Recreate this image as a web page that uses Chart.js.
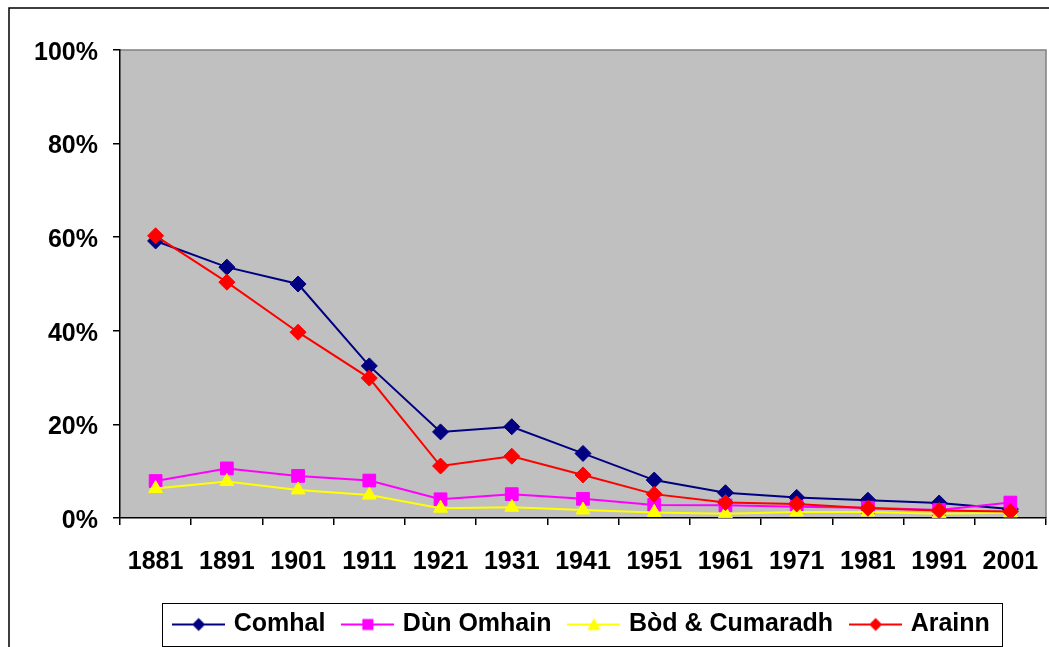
<!DOCTYPE html>
<html>
<head>
<meta charset="utf-8">
<script src="https://cdn.jsdelivr.net/npm/chart.js@4.4.1/dist/chart.umd.min.js"></script>
<style>
  html, body { margin: 0; padding: 0; background: #fff; overflow: hidden; }
  canvas { display: block; }
</style>
</head>
<body>
<canvas id="chart" width="1049" height="647"></canvas>
<script>
// years (x axis)
const years = ['1881', '1891', '1901', '1911', '1921', '1931', '1941', '1951', '1961', '1971', '1981', '1991', '2001'];
// share of Gaelic speakers, in %
const comhal = [59.2, 53.6, 50.0, 32.5, 18.4, 19.5, 13.8, 8.1, 5.4, 4.4, 3.8, 3.2, 1.9];
const dunOmhain = [7.9, 10.6, 9.0, 8.0, 4.0, 5.1, 4.1, 2.8, 2.7, 2.4, 2.2, 1.7, 3.3];
const bodCumaradh = [6.3, 7.8, 6.0, 4.9, 2.1, 2.3, 1.7, 1.2, 0.9, 1.3, 1.3, 0.9, 1.1];
const arainn = [60.3, 50.4, 39.7, 29.9, 11.1, 13.2, 9.2, 5.1, 3.3, 3.0, 2.1, 1.6, 1.4];
const yTicks = [0, 20, 40, 60, 80, 100];

const FONT = { family: '"Liberation Sans", Arial, sans-serif', size: 25, weight: 'bold' };

// small line + marker picture for the legend
function legendIcon(color, shape) {
  const c = document.createElement('canvas');
  c.width = 53; c.height = 16;
  const g = c.getContext('2d');
  g.strokeStyle = color; g.lineWidth = 2;
  g.beginPath(); g.moveTo(0, 8); g.lineTo(53, 8); g.stroke();
  g.fillStyle = color;
  g.beginPath();
  if (shape === 'diamond') {
    g.moveTo(26.5, 1.5); g.lineTo(33, 8); g.lineTo(26.5, 14.5); g.lineTo(20, 8);
  } else if (shape === 'square') {
    g.rect(21, 2.5, 11, 11);
  } else {
    g.moveTo(26.5, 1.5); g.lineTo(33, 13.5); g.lineTo(20, 13.5);
  }
  g.closePath(); g.fill();
  return c;
}

const icons = [
  legendIcon('#000080', 'diamond'),
  legendIcon('#FF00FF', 'square'),
  legendIcon('#FFFF00', 'triangle'),
  legendIcon('#FF0000', 'diamond')
];

const plotBackground = {
  id: 'plotBackground',
  beforeDraw(chart) {
    const { ctx, chartArea: a } = chart;
    ctx.save();
    ctx.fillStyle = '#C0C0C0';
    ctx.fillRect(a.left, a.top, a.right - a.left, a.bottom - a.top);
    ctx.strokeStyle = '#808080';
    ctx.lineWidth = 1.5;
    ctx.beginPath();
    ctx.moveTo(a.left, a.top); ctx.lineTo(a.right, a.top); ctx.lineTo(a.right, a.bottom);
    ctx.stroke();
    ctx.restore();
  },
  afterDraw(chart) {
    const ctx = chart.ctx;
    ctx.save();
    // outer chart frame
    ctx.strokeStyle = '#000';
    ctx.lineWidth = 1.5;
    ctx.strokeRect(9, 8, 1200, 800);
    // legend frame
    const hb = chart.legend.legendHitBoxes;
    if (hb && hb.length) {
      const first = hb[0], last = hb[hb.length - 1];
      const left = first.left - 14;
      const right = last.left + last.width + 12;
      const top = first.top - 9;
      const bottom = first.top + first.height + 9;
      ctx.lineWidth = 1;
      ctx.strokeRect(Math.round(left) + 0.5, Math.round(top) + 0.5, Math.round(right - left), Math.round(bottom - top));
    }
    ctx.restore();
  }
};

const config = {
  type: 'line',
  data: {
    labels: years,
    datasets: [
      { label: 'Comhal', data: comhal, borderColor: '#000080', backgroundColor: '#000080',
        pointStyle: 'rectRot', pointRadius: 8, order: 4 },
      { label: 'Dùn Omhain', data: dunOmhain, borderColor: '#FF00FF', backgroundColor: '#FF00FF',
        pointStyle: 'rect', pointRadius: 9, order: 3 },
      { label: 'Bòd & Cumaradh', data: bodCumaradh, borderColor: '#FFFF00', backgroundColor: '#FFFF00',
        pointStyle: 'triangle', pointRadius: 8, order: 2 },
      { label: 'Arainn', data: arainn, borderColor: '#FF0000', backgroundColor: '#FF0000',
        pointStyle: 'rectRot', pointRadius: 8, order: 1 }
    ]
  },
  options: {
    responsive: false,
    animation: false,
    events: [],
    elements: {
      line: { borderWidth: 2, tension: 0, fill: false },
      point: { borderWidth: 1 }
    },
    layout: { autoPadding: false, padding: { top: 50, left: 0, right: 3, bottom: 0 } },
    scales: {
      x: {
        type: 'category',
        offset: true,
        afterFit(scale) { scale.height = 74; scale.paddingLeft = 0; scale.paddingRight = 0; },
        grid: { offset: true, drawOnChartArea: false, drawTicks: true, tickLength: 7, color: '#000', lineWidth: 1.5 },
        border: { display: true, color: '#000', width: 1.5 },
        ticks: { color: '#000', font: FONT, padding: 22, maxRotation: 0, autoSkip: false }
      },
      y: {
        min: 0,
        max: 100,
        afterFit(scale) { scale.width = 120; },
        afterBuildTicks(scale) { scale.ticks = yTicks.map(v => ({ value: v })); },
        grid: { drawOnChartArea: false, drawTicks: true, tickLength: 7, color: '#000', lineWidth: 1.5 },
        border: { display: true, color: '#000', width: 1.5 },
        ticks: { color: '#000', font: FONT, padding: 15, labelOffset: 3, callback: v => v + '%' }
      }
    },
    plugins: {
      legend: {
        position: 'bottom',
        fullSize: false,
        labels: {
          color: '#000',
          font: FONT,
          padding: 20,
          usePointStyle: true,
          pointStyleWidth: 45,
          generateLabels(chart) {
            return chart.data.datasets.map((ds, i) => ({
              text: ds.label,
              fillStyle: ds.backgroundColor,
              strokeStyle: ds.borderColor,
              pointStyle: icons[i],
              fontColor: '#000',
              hidden: false,
              lineWidth: 0,
              datasetIndex: i
            }));
          }
        }
      },
      tooltip: { enabled: false }
    }
  },
  plugins: [plotBackground]
};

const myChart = new Chart(document.getElementById('chart'), config);
</script>
</body>
</html>
